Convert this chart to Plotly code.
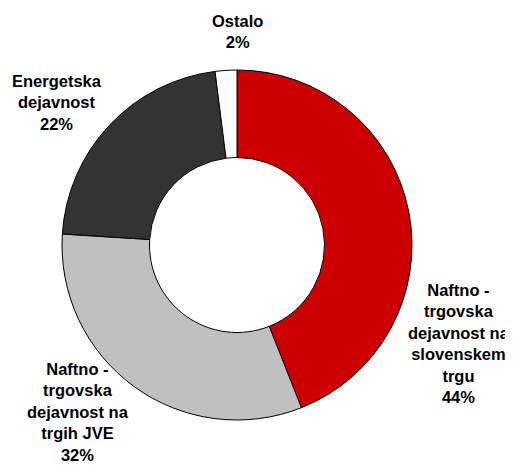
import plotly.graph_objects as go

# --- Data ---
segments = [
    "Naftno -<br>trgovska<br>dejavnost na<br>slovenskem<br>trgu",
    "Naftno -<br>trgovska<br>dejavnost na<br>trgih JVE",
    "Energetska<br>dejavnost",
    "Ostalo",
]
shares = [44, 32, 22, 2]
colors = ["#cc0000", "#c0c0c0", "#333333", "#ffffff"]

# label anchor points (pixels, reference picture coords)
label_xy = [(459, 343), (78, 412), (57, 103), (237, 31)]

# page body has an 8px margin, so the figure sits 8px in from the corner
OFF = 8
W, H = 513 - OFF, 465 - OFF
cx, cy, r = 237 - OFF, 245 - OFF, 175

fig = go.Figure(go.Pie(
    labels=segments,
    values=shares,
    sort=False,
    direction="clockwise",
    rotation=0,
    hole=0.5,
    marker=dict(colors=colors, line=dict(color="#000000", width=1)),
    textinfo="none",
    hoverinfo="label+percent",
    domain=dict(x=[(cx - r) / W, (cx + r) / W],
                y=[1 - (cy + r) / H, 1 - (cy - r) / H]),
))

for name, val, (px, py) in zip(segments, shares, label_xy):
    fig.add_annotation(
        x=(px - OFF) / W, y=1 - (py - OFF) / H, xref="paper", yref="paper",
        text=f"{name}<br>{val}%",
        showarrow=False, xanchor="center", yanchor="middle", align="center",
        font=dict(family="Arial, Liberation Sans, sans-serif", size=16.5,
                  color="#000000", weight="bold"),
    )

fig.update_layout(
    width=W, height=H,
    margin=dict(l=0, r=0, t=0, b=0),
    paper_bgcolor="#ffffff",
    plot_bgcolor="#ffffff",
    showlegend=False,
)

fig.write_html("out.html")
